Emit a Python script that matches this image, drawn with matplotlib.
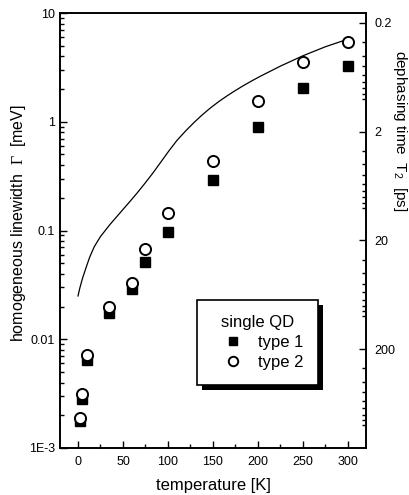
import matplotlib
matplotlib.use("Agg")
import matplotlib.pyplot as plt
from matplotlib.ticker import FixedLocator, FixedFormatter, LogLocator, NullFormatter, MultipleLocator
from matplotlib.patches import Rectangle

plt.rcParams['font.family'] = ['Liberation Sans', 'DejaVu Sans']
plt.rcParams['mathtext.fontset'] = 'custom'
plt.rcParams['mathtext.rm'] = 'Liberation Sans'
plt.rcParams['mathtext.sf'] = 'Liberation Serif'

# data
temps = [2, 5, 10, 35, 60, 75, 100, 150, 200, 250, 300]
gamma_type1 = [0.00177, 0.00285, 0.00643, 0.0173, 0.0291, 0.0515, 0.0966, 0.291, 0.89, 2.06, 3.27]
gamma_type2 = [0.0019, 0.00317, 0.00714, 0.0199, 0.033, 0.0675, 0.1436, 0.437, 1.55, 3.56, 5.45]

curve_T = [0, 2, 5, 9, 13, 18, 25, 36, 47, 57, 66, 74, 83, 92, 101, 110,
           120, 129, 138, 147, 157, 166, 175, 184, 194, 203, 225, 250, 275, 300]
curve_G = [0.025, 0.0295, 0.0363, 0.0457, 0.0569, 0.0708, 0.0881, 0.1148, 0.1462, 0.182, 0.2228,
           0.2692, 0.3357, 0.4256, 0.5395, 0.6745, 0.83, 0.986, 1.156, 1.337, 1.545, 1.738, 1.941,
           2.153, 2.399, 2.63, 3.251, 4.046, 4.898, 5.754]

left_ticks = [10, 1, 0.1, 0.01, 0.001]
left_labels = ['10', '1', '0.1', '0.01', '1E-3']
right_ticks = [0.2, 2, 20, 200]
right_labels = ['0.2', '2', '20', '200']
x_ticks = [0, 50, 100, 150, 200, 250, 300]
T2_const = 1.62  # T2 [ps] = const / Gamma [meV]

fig = plt.figure(figsize=(4.1, 4.95), dpi=100)
ax = fig.add_axes([60/410, 1-448/495, 306/410, 435/495])

ax.plot(curve_T, curve_G, color='black', lw=0.9, zorder=2)
ax.plot(temps, gamma_type1, ls='none', marker='s', ms=7.5, mfc='black', mec='black', zorder=3, label='type 1')
ax.plot(temps, gamma_type2, ls='none', marker='o', ms=8, mfc='white', mec='black', mew=1.4, zorder=4, label='type 2')

ax.set_yscale('log')
ax.set_ylim(1e-3, 10)
ax.set_xlim(-20, 320)
ax.yaxis.set_major_locator(FixedLocator(left_ticks))
ax.yaxis.set_major_formatter(FixedFormatter(left_labels))
ax.yaxis.set_minor_locator(LogLocator(base=10, subs=range(2, 10), numticks=20))
ax.yaxis.set_minor_formatter(NullFormatter())
ax.xaxis.set_major_locator(FixedLocator(x_ticks))
ax.xaxis.set_minor_locator(MultipleLocator(25))

ax.tick_params(which='both', direction='in', top=False, right=False, labelsize=9, width=1)
ax.tick_params(which='major', length=5)
ax.tick_params(which='minor', length=3)
ax.tick_params(axis='x', pad=6)
for s in ax.spines.values():
    s.set_linewidth(1.2)

ax2 = ax.twinx()
ax2.set_yscale('log')
ax2.set_ylim(T2_const/1e-3, T2_const/10)
ax2.yaxis.set_major_locator(FixedLocator(right_ticks))
ax2.yaxis.set_major_formatter(FixedFormatter(right_labels))
ax2.yaxis.set_minor_locator(LogLocator(base=10, subs=(1, 3, 4, 5, 6, 7, 8, 9), numticks=20))
ax2.yaxis.set_minor_formatter(NullFormatter())
ax2.tick_params(which='both', direction='in', labelsize=9, width=1)
ax2.tick_params(which='major', length=5, pad=6)
ax2.tick_params(which='minor', length=3)
for s in ax2.spines.values():
    s.set_linewidth(1.2)

ax.set_xlabel('temperature [K]', fontsize=12)
ax.xaxis.set_label_coords(0.5, -0.07)
ax.set_ylabel(r'homogeneous linewidth  $\mathsf{\Gamma}$  [meV]', fontsize=11.5)
ax.yaxis.set_label_coords(-0.105, 0.517)
ax.text((400-60)/306, 0.728, 'dephasing time  T$_2$  [ps]', transform=ax.transAxes, rotation=270,
        ha='center', va='center', fontsize=11)

leg = ax.legend(title='single QD', loc='upper left', bbox_to_anchor=((197-60)/306, 1-(300-13)/435),
                frameon=True, fancybox=False, fontsize=12, title_fontsize=12,
                handletextpad=0.25, borderpad=0.9, borderaxespad=0, labelspacing=0.3,
                handlelength=2.5, markerscale=0.85)
leg.get_frame().set_edgecolor('black')
leg.get_frame().set_linewidth(1.2)
leg.get_frame().set_alpha(1)
leg.set_zorder(10)
ax.set_zorder(ax2.get_zorder() + 1)
ax.patch.set_visible(False)

fig.canvas.draw()
bb = leg.get_window_extent()
shadow = Rectangle((bb.x0 + 5, bb.y0 - 5), bb.width, bb.height, transform=None,
                   facecolor='black', edgecolor='none', zorder=9)
ax.add_artist(shadow)

fig.savefig('out.png', dpi=100)
